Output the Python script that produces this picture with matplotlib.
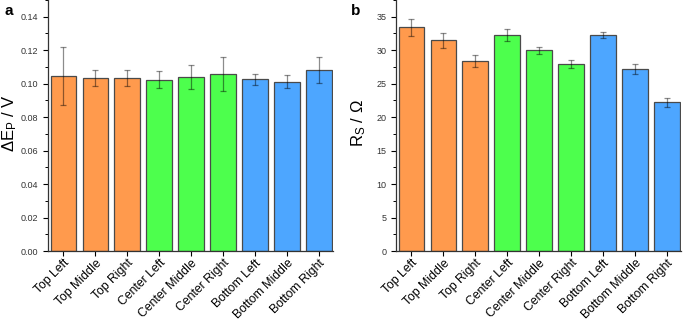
import numpy as np
import matplotlib
matplotlib.use('Agg')
import matplotlib.pyplot as plt
from matplotlib.ticker import MultipleLocator, AutoMinorLocator, FormatStrFormatter

plt.rcParams['font.family'] = ['Liberation Sans', 'DejaVu Sans']
plt.rcParams['mathtext.default'] = 'regular'

#data
positions = ['Top Left', 'Top Middle', 'Top Right',
             'Center Left', 'Center Middle', 'Center Right',
             'Bottom Left', 'Bottom Middle', 'Bottom Right']
dEp = [0.1048, 0.1035, 0.1033, 0.1023, 0.1039, 0.1059, 0.1025, 0.1012, 0.1083]
dEp_err = [0.0173, 0.0047, 0.0048, 0.0050, 0.0070, 0.0102, 0.0031, 0.0040, 0.0077]
Rs = [33.4, 31.45, 28.35, 32.25, 30.0, 27.9, 32.25, 27.15, 22.2]
Rs_err = [1.3, 1.15, 0.87, 0.9, 0.55, 0.6, 0.42, 0.75, 0.7]

orange = '#FF9A4D'
green = '#4DFF4D'
blue = '#4DA6FF'
colors = [orange]*3 + [green]*3 + [blue]*3

fig = plt.figure(figsize=(6.84, 3.21), dpi=100)
ax1 = fig.add_axes([0.0702, 0.218, 0.417, 0.782])
ax2 = fig.add_axes([0.579, 0.218, 0.417, 0.782])

x = np.arange(len(positions))

def draw(ax, vals, errs, ylim, major, ylabel):
    ax.bar(x, vals, width=0.8, color=colors, edgecolor='#4a4a4a', linewidth=0.9, zorder=2)
    ax.errorbar(x, vals, yerr=errs, fmt='none', ecolor='black', alpha=0.45,
                elinewidth=0.9, capsize=2.2, capthick=0.9, zorder=3)
    ax.set_xlim(-0.48, 8.45)
    ax.set_ylim(*ylim)
    ax.yaxis.set_major_locator(MultipleLocator(major))
    ax.yaxis.set_minor_locator(AutoMinorLocator(2))
    ax.set_xticks(x)
    ax.set_xticklabels(positions, rotation=45, ha='right', rotation_mode='anchor', fontsize=8.8)
    ax.tick_params(axis='y', labelsize=6.5, labelcolor='#333333', length=3.5, width=0.8, direction='out')
    ax.tick_params(axis='y', which='minor', length=2, width=0.7)
    ax.tick_params(axis='x', length=3.5, width=0.8, direction='out', pad=1)
    ax.spines['top'].set_visible(False)
    ax.spines['right'].set_visible(False)
    for s in ['left', 'bottom']:
        ax.spines[s].set_color('#333333')
        ax.spines[s].set_linewidth(0.9)
    ax.set_ylabel(ylabel, fontsize=12)
    ax.yaxis.set_label_coords(-0.10, 0.51)

draw(ax1, dEp, dEp_err, (0, 0.15), 0.02, 'ΔE$_P$ / V')
ax1.yaxis.set_major_formatter(FormatStrFormatter('%.2f'))
draw(ax2, Rs, Rs_err, (0, 37.5), 5, 'R$_S$ / Ω')

fig.text(0.006, 0.965, 'a', fontsize=11, fontweight='bold', va='center')
fig.text(0.513, 0.965, 'b', fontsize=11, fontweight='bold', va='center')

plt.savefig('out.png', dpi=100)
